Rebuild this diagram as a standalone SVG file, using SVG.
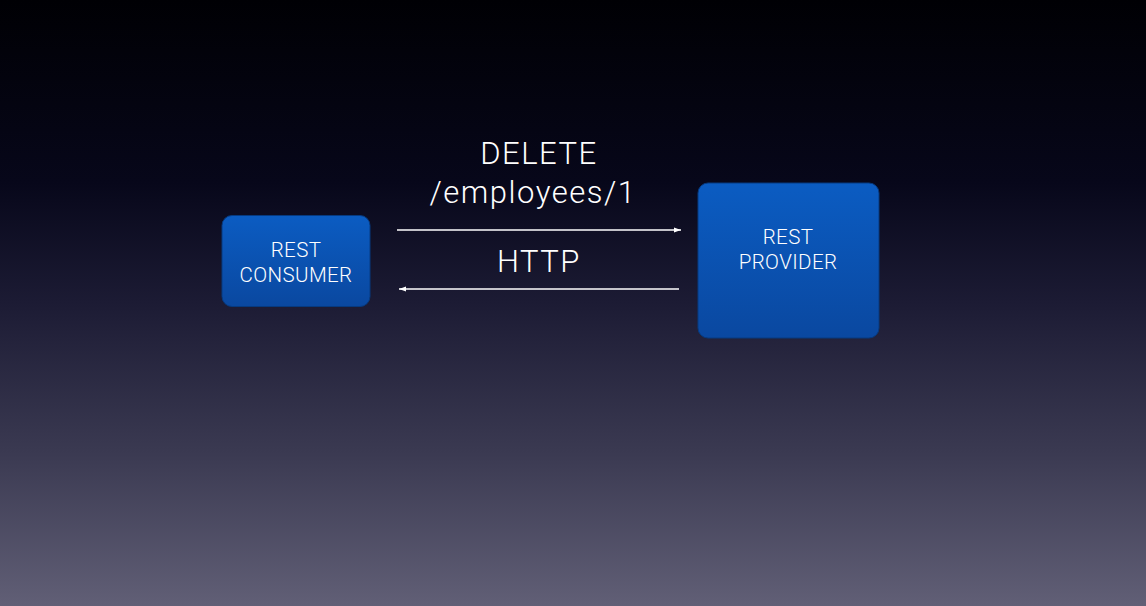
<svg xmlns="http://www.w3.org/2000/svg" width="1146" height="606" viewBox="0 0 1146 606">
<defs>
<linearGradient id="bg" x1="0" y1="0" x2="0" y2="1">
<stop offset="0" stop-color="#000004"/>
<stop offset="0.3" stop-color="#07071a"/>
<stop offset="0.5" stop-color="#1c1b34"/>
<stop offset="0.75" stop-color="#3b3a52"/>
<stop offset="1" stop-color="#615f76"/>
</linearGradient>
<linearGradient id="box" x1="0" y1="0" x2="0" y2="1">
<stop offset="0" stop-color="#0b5cc2"/>
<stop offset="1" stop-color="#0a48a0"/>
</linearGradient>
<marker id="ah" markerWidth="8" markerHeight="8" refX="7" refY="4" orient="auto-start-reverse" markerUnits="userSpaceOnUse">
<path d="M0,1.5 L7,4 L0,6.5 Z" fill="#ffffff"/>
</marker>
<style>
.node rect{fill:url(#box);stroke:#063a80;stroke-width:1}
.lbl{font-family:Roboto,"Liberation Sans",sans-serif;font-weight:300;fill:#ffffff;text-anchor:middle}
.nl{font-size:20.5px;letter-spacing:0.4px}
.el{font-size:31px;letter-spacing:1.5px}
.conn line{stroke:#ffffff;stroke-width:1.6}
</style>
</defs>
<rect width="1146" height="606" fill="url(#bg)"/>
<g id="consumer" class="node">
<rect x="222" y="215.5" width="148" height="91" rx="10"/>
<text class="lbl nl" x="296" y="257">REST</text>
<text class="lbl nl" x="296" y="282">CONSUMER</text>
</g>
<g id="provider" class="node">
<rect x="698" y="183" width="181" height="155" rx="10"/>
<text class="lbl nl" x="788" y="244">REST</text>
<text class="lbl nl" x="788" y="269">PROVIDER</text>
</g>
<g id="connectors" class="conn">
<line x1="397" y1="230" x2="681" y2="230" marker-end="url(#ah)"/>
<line x1="679" y1="289" x2="399" y2="289" marker-end="url(#ah)"/>
</g>
<g id="labels">
<text class="lbl el" x="539" y="164">DELETE</text>
<text class="lbl el" x="533" y="203">/employees/1</text>
<text class="lbl el" x="539" y="272">HTTP</text>
</g>
</svg>
